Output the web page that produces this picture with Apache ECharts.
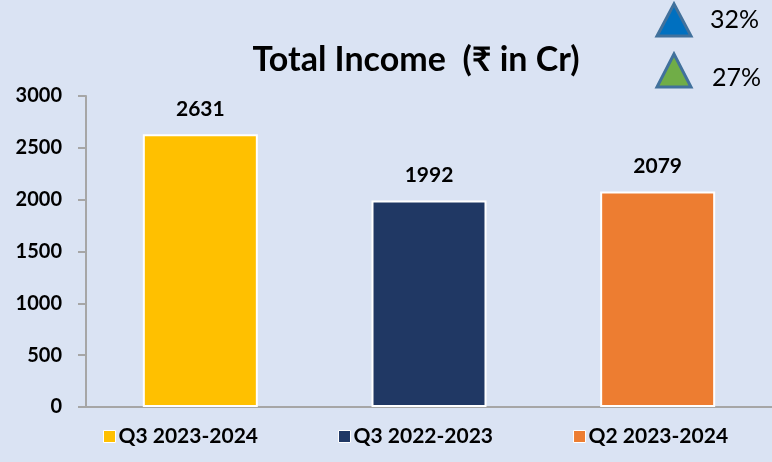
<!DOCTYPE html>
<html>
<head>
<meta charset="utf-8">
<script src="https://cdn.jsdelivr.net/npm/echarts@6/dist/echarts.min.js"></script>
<style>
  html, body { margin: 0; padding: 0; background: #dae3f3; }
  #chart { width: 772px; height: 462px; }
</style>
</head>
<body>
<div id="chart"></div>
<script>
// periods shown, one bar each
const periods = ['Q3 2023-2024', 'Q3 2022-2023', 'Q2 2023-2024'];
const income = [2631, 1992, 2079];
const barColors = ['#FFC000', '#203864', '#ED7D31'];
const growthLabels = ['32%', '27%'];
const yTicks = [0, 500, 1000, 1500, 2000, 2500, 3000];

const font = 'Lato, "Open Sans", "Noto Sans", sans-serif';
const chart = echarts.init(document.getElementById('chart'));

// one series per period so the legend shows each colour
const series = periods.map(function (p, i) {
  const d = periods.map(function () { return null; });
  d[i] = income[i];
  return {
    name: p,
    type: 'bar',
    stack: 'all',
    barWidth: 115,
    data: d,
    itemStyle: { color: barColors[i], borderColor: '#ffffff', borderWidth: 2 },
    label: {
      show: true,
      position: 'top',
      distance: 15,
      color: '#000',
      fontFamily: font,
      fontWeight: 'bold',
      fontSize: 21
    }
  };
});

const option = {
  backgroundColor: '#dae3f3',
  animation: false,
  title: {
    text: 'Total Income  (₹ in Cr)',
    left: 411,
    top: 38,
    textAlign: 'center',
    textStyle: { fontFamily: font, fontWeight: 'bold', fontSize: 34, color: '#000' }
  },
  legend: {
    bottom: 10,
    left: 98,
    itemWidth: 12,
    itemHeight: 12,
    itemGap: 80,
    icon: 'rect',
    itemStyle: { borderColor: '#ffffff', borderWidth: 1 },
    textStyle: { fontFamily: font, fontWeight: 'bold', fontSize: 21, color: '#000', padding: [0, 0, 0, -2] },
    data: periods
  },
  grid: { left: 86, right: -1, top: 96, bottom: 55, containLabel: false },
  xAxis: {
    type: 'category',
    data: periods,
    axisLine: { lineStyle: { color: '#a6a6a6', width: 2 } },
    axisTick: { show: false },
    axisLabel: { show: false }
  },
  yAxis: {
    type: 'value',
    min: yTicks[0],
    max: yTicks[yTicks.length - 1],
    interval: 500,
    splitLine: { show: false },
    axisLine: { show: true, lineStyle: { color: '#a6a6a6', width: 2 } },
    axisTick: { show: true, length: 8, lineStyle: { color: '#a6a6a6', width: 2 } },
    axisLabel: {
      margin: 24, color: '#000', fontFamily: font, fontWeight: 'bold', fontSize: 20,
      formatter: function (v) { return String(v); }
    }
  },
  graphic: [
    {
      type: 'polygon',
      shape: { points: [[674, 4], [657, 36], [691, 36]] },
      style: { fill: '#0070C0', stroke: '#41719C', lineWidth: 3 }
    },
    {
      type: 'polygon',
      shape: { points: [[674, 54], [657, 87], [691, 87]] },
      style: { fill: '#70AD47', stroke: '#41719C', lineWidth: 3 }
    },
    {
      type: 'text', left: 710, top: 7,
      style: { text: growthLabels[0], fontFamily: font, fontSize: 25, fill: '#000' }
    },
    {
      type: 'text', left: 712, top: 65,
      style: { text: growthLabels[1], fontFamily: font, fontSize: 25, fill: '#000' }
    }
  ],
  series: series
};

chart.setOption(option);
</script>
</body>
</html>
